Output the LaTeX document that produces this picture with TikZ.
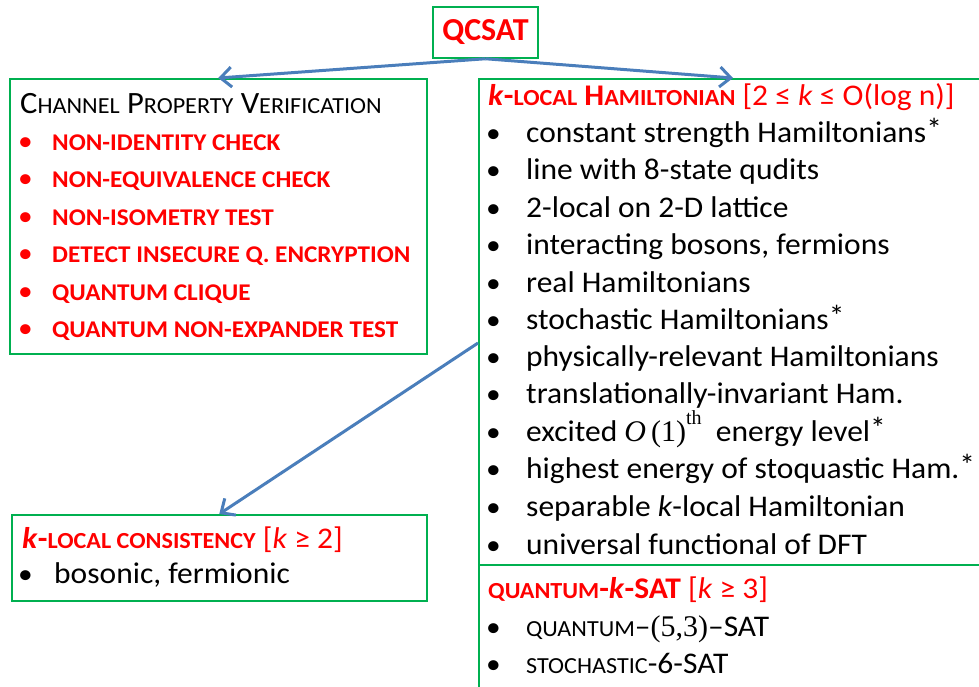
\documentclass[tikz,border=0pt]{standalone}
\usepackage{fontspec}
\setmainfont[FakeStretch=1.05]{Carlito}
\newfontfamily\qfont{Carlito}
\newfontfamily\serf{Liberation Serif}
\usetikzlibrary{arrows.meta}
\definecolor{boxgreen}{RGB}{0,176,80}
\definecolor{arrowblue}{RGB}{74,126,187}
\definecolor{hred}{RGB}{255,0,0}
\newcommand\bodyfs{\fontsize{30}{33}\selectfont}
\newcommand\sm[1]{{\fontsize{23}{26}\selectfont #1}}
\newcommand\redfs{\fontsize{24}{27}\selectfont\bfseries}
\newcommand\bul{{\fontsize{28}{30}\selectfont\mdseries •}}
\newcommand\myast{\raisebox{0.1em}{*}}
\newcommand\Oone{{\serf\itshape O\,}{\serf(1)}\raisebox{0.55em}{\serf\fontsize{20}{22}\selectfont th}}
\tikzset{
  box/.style={draw=boxgreen, line width=1.5pt, inner sep=0pt, anchor=north west},
  txt/.style={anchor=base west, inner sep=0pt, font=\bodyfs, text=black},
  redtxt/.style={anchor=base west, inner sep=0pt, font=\redfs, text=hred},
  conn/.style={draw=arrowblue, line width=3pt, -{Straight Barb[length=11pt,width=20pt]}},
}
\begin{document}
\begin{tikzpicture}[x=1pt,y=1pt]
\useasboundingbox (0,0) rectangle (979,-686);
\clip (0,0) rectangle (979,-686);
% boxes
\node[box, anchor=center, minimum width=105pt, minimum height=51pt, font=\qfont\fontsize{32}{36}\selectfont\bfseries, text=hred] (q) at (485.5,-32.5) {QCSAT};
\node[box, minimum width=417pt, minimum height=275pt] (chan) at (9,-78) {};
\node[box, minimum width=530pt, minimum height=630pt] (ham) at (478,-78) {};
\node[box, minimum width=415pt, minimum height=86pt] (cons) at (11,-514) {};
\coordinate (divL) at (478,-565);
\coordinate (divR) at (1000,-565);
\draw[boxgreen, line width=1.5pt] (divL) -- (divR);
% connectors
\coordinate (hamtop) at (733,-78);
\coordinate (hamleft) at (478,-343);
\draw[conn] (q.south) -- (chan.north);
\draw[conn] (q.south) -- (hamtop);
\draw[conn] (hamleft) -- (cons.north);
% left box
\node[txt, font=\fontsize{31}{34}\selectfont] (chant) at (20,-113) {C\sm{HANNEL} P\sm{ROPERTY} V\sm{ERIFICATION}};
\foreach \y/\t [count=\i] in {150/NON-IDENTITY CHECK, 187/NON-EQUIVALENCE CHECK, 225/NON-ISOMETRY TEST, 262/DETECT INSECURE Q. ENCRYPTION, 300/QUANTUM CLIQUE, 337/QUANTUM NON-EXPANDER TEST}{
  \node[redtxt] (cb\i) at (18,-\y) {\bul};
  \node[redtxt] (ci\i) at (52,-\y) {\t};
}
% right box
\node[txt, text=hred] (hamt) at (488,-105) {\textbf{\textit{k}-\sm{LOCAL} H\sm{AMILTONIAN}} [2 ≤ \textit{k} ≤ O(log n)]};
\foreach \y/\t [count=\i] in {142/constant strength Hamiltonians\myast, 179/line with 8-state qudits, 217/2-local on 2-D lattice, 254/{interacting bosons, fermions}, 292/real Hamiltonians, 329/stochastic Hamiltonians\myast, 366/physically-relevant Hamiltonians, 403/translationally-invariant Ham., 441/{excited \Oone\ \ energy level\myast}, 478/highest energy of stoquastic Ham.\myast, 516/{separable \textit{k}-local Hamiltonian}, 554/universal functional of DFT}{
  \node[txt] (hb\i) at (486,-\y) {\bul};
  \node[txt] (hi\i) at (526,-\y) {\t};
}
\node[txt, text=hred] (qkt) at (488,-598) {\textbf{\sm{QUANTUM}-\textit{k}-SAT} [\textit{k} ≥ 3]};
\node[txt] (qb1) at (486,-636) {\bul};
\node[txt] (qi1) at (526,-636) {\sm{QUANTUM}–{\serf(5,3)}–SAT};
\node[txt] (qb2) at (486,-673) {\bul};
\node[txt] (qi2) at (526,-673) {\sm{STOCHASTIC}-6-SAT};
% lower left box
\node[txt, text=hred] (const) at (22,-548) {\textbf{\textit{k}-\sm{LOCAL CONSISTENCY}} [\textit{k} ≥ 2]};
\node[txt] (kb1) at (18,-583) {\bul};
\node[txt] (ki1) at (54,-583) {bosonic, fermionic};
\end{tikzpicture}
\end{document}
